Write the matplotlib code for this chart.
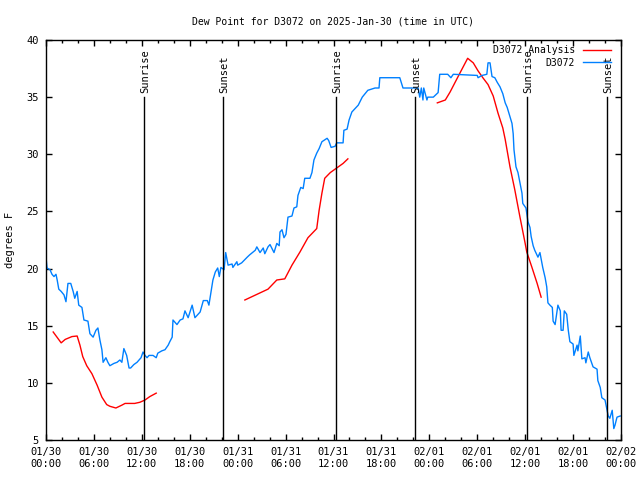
import numpy as np
import matplotlib
matplotlib.use("Agg")
import matplotlib.pyplot as plt
from matplotlib.ticker import MultipleLocator

# hours since 2025-01-30 00:00 UTC
obs_hours = [0.0, 0.13, 0.5, 0.75, 1.0, 1.25, 1.4, 1.6, 1.9, 2.25, 2.5, 2.75, 3.1, 3.4, 3.6, 3.9,
             4.1, 4.5, 4.75, 5.25, 5.5, 5.9, 6.25, 6.5, 6.75, 7.0, 7.15, 7.5, 7.75, 8.0, 8.5, 8.9,
             9.25, 9.5, 9.75, 10.1, 10.4, 10.6, 11.0, 11.4, 11.65, 11.9, 12.15, 12.4, 12.65, 12.9,
             13.4, 13.8, 14.0, 14.5, 14.9, 15.3, 15.5, 15.8, 15.9, 16.4, 16.8, 17.15, 17.4, 17.8,
             18.3, 18.65, 19.3, 19.7, 20.2, 20.4, 20.7, 20.9, 21.2, 21.5, 21.7, 21.9, 22.3, 22.5,
             22.8, 23.3, 23.4, 23.9, 24.0, 24.5, 25.2, 25.5, 26.2, 26.4, 26.8, 27.2, 27.4, 27.8,
             28.05, 28.4, 28.55, 28.9, 29.2, 29.3, 29.55, 29.8, 30.05, 30.3, 30.8, 31.05, 31.4,
             31.55, 31.9, 32.2, 32.4, 33.05, 33.3, 33.55, 33.9, 34.2, 34.55, 35.2, 35.4, 35.7,
             36.2, 36.4, 37.2, 37.3, 37.7, 37.95, 38.3, 39.1, 39.6, 40.3, 41.2, 41.7, 41.8, 44.3,
             44.7, 46.6, 46.8, 47.0, 47.2, 47.3, 47.7, 47.8, 48.5, 49.1, 49.3, 50.3, 50.7, 51.0,
             54.0, 54.1, 54.6, 55.2, 55.35, 55.6, 55.85, 56.2, 56.5, 56.85, 57.2, 57.5, 57.75,
             58.1, 58.35, 58.5, 58.6, 58.85, 59.1, 59.35, 59.6, 59.7, 60.1, 60.35, 60.6, 60.75,
             61.0, 61.2, 61.6, 61.85, 62.1, 62.2, 62.5, 62.7, 62.85, 63.1, 63.4, 63.5, 63.75,
             64.1, 64.4, 64.5, 64.75, 64.9, 65.2, 65.4, 65.6, 66.0, 66.1, 66.5, 66.6, 66.9, 67.1,
             67.5, 67.6, 67.9, 68.1, 68.5, 69.0, 69.1, 69.4, 69.6, 70.0, 70.25, 70.4, 70.6, 70.9,
             71.1, 71.25, 71.5, 71.9]
obs_dewpt = [21.0, 20.05, 19.9, 19.5, 19.3, 19.5, 19.0, 18.2, 18.0, 17.7, 17.1, 18.7, 18.7, 18.0, 17.4, 18.0,
             16.8, 16.6, 15.5, 15.4, 14.3, 14.0, 14.6, 14.8, 13.75, 12.9, 11.8, 12.2, 11.8, 11.5, 11.7, 11.8,
             12.0, 11.8, 13.0, 12.4, 11.3, 11.3, 11.6, 11.8, 12.0, 12.2, 12.7, 12.4, 12.2, 12.4,
             12.4, 12.2, 12.6, 12.8, 12.9, 13.3, 13.6, 14.0, 15.5, 15.1, 15.5, 15.6, 16.3, 15.7,
             16.8, 15.7, 16.2, 17.2, 17.2, 16.8, 18.1, 19.0, 19.7, 20.05, 19.3, 20.1, 19.9, 21.4,
             20.3, 20.4, 20.1, 20.6, 20.3, 20.5, 21.0, 21.2, 21.6, 21.9, 21.4, 21.8, 21.3, 21.9,
             22.1, 21.6, 21.4, 22.2, 22.0, 23.2, 23.4, 22.7, 23.0, 24.5, 24.6, 25.3, 25.4,
             26.4, 27.1, 27.0, 27.9, 27.9, 28.4, 29.5, 30.1, 30.5, 31.1, 31.4, 31.2, 30.6,
             30.7, 31.0, 31.0, 32.1, 32.2, 33.0, 33.7, 34.3, 35.0, 35.6, 35.8, 35.8, 36.7, 36.7,
             35.8, 35.8, 35.0, 35.8, 34.75, 35.8, 34.75, 35.0, 35.0, 35.4, 37.0, 37.0, 36.7, 37.0,
             36.9, 36.7, 36.9, 37.0, 38.0, 38.0, 36.8, 36.7, 36.3, 35.9, 35.3, 34.5, 34.1,
             33.3, 32.7, 31.8, 30.4, 28.9, 28.4, 27.5, 26.6, 25.7, 25.3, 24.1, 23.6, 22.8,
             22.0, 21.6, 21.0, 21.4, 20.5, 20.1, 19.2, 18.4, 17.0, 16.8, 16.6, 15.4, 15.1,
             16.8, 16.3, 14.6, 14.6, 16.3, 16.0, 14.6, 13.6, 13.4, 12.4, 13.3, 12.8, 14.1, 12.1,
             12.2, 11.75, 12.7, 12.2, 11.4, 11.2, 10.2, 9.6, 8.7, 8.5, 7.6, 7.1, 6.9, 7.6,
             6.0, 6.3, 7.0, 7.1]

# analysis, three separate runs (nan = gap)
ana_hours = [0.9, 1.9, 2.4, 3.25, 3.9, 4.25, 4.6, 5.1, 5.75, 6.4, 7.0, 7.6, 8.0, 8.75, 9.5, 9.9,
             11.1, 11.75, 12.4, 13.0, 13.8, 19.0,
             24.9, 27.8, 28.9, 29.9, 30.8, 31.8, 32.8, 33.9, 34.2, 34.55, 34.9, 35.6, 36.4, 37.2,
             37.8, 43.0,
             49.0, 50.0, 50.6, 51.6, 52.8, 53.5, 54.1, 54.7, 55.35, 56.0, 56.6, 57.2, 57.5, 58.1,
             58.7, 59.35, 60.0, 60.2, 60.85, 61.5, 62.0]
ana_dewpt = [14.45, 13.5, 13.8, 14.05, 14.1, 13.3, 12.3, 11.5, 10.8, 9.8, 8.75, 8.1, 7.95, 7.8, 8.05, 8.2,
             8.2, 8.3, 8.5, 8.8, 9.1, np.nan,
             17.25, 18.2, 19.0, 19.1, 20.3, 21.45, 22.7, 23.5, 25.1, 26.6, 27.9, 28.4, 28.8, 29.2,
             29.6, np.nan,
             34.5, 34.75, 35.45, 36.8, 38.4, 38.0, 37.3, 36.7, 36.1, 35.1, 33.6, 32.3, 31.3, 28.9,
             26.9, 24.5, 22.2, 21.45, 20.1, 18.7, 17.5]

sun_hours = [12.27, 22.15, 36.3, 46.2, 60.2, 70.2]
sun_names = ["Sunrise", "Sunset", "Sunrise", "Sunset", "Sunrise", "Sunset"]

tick_hours = list(range(0, 73, 6))
tick_labels = ["01/30\n00:00", "01/30\n06:00", "01/30\n12:00", "01/30\n18:00",
               "01/31\n00:00", "01/31\n06:00", "01/31\n12:00", "01/31\n18:00",
               "02/01\n00:00", "02/01\n06:00", "02/01\n12:00", "02/01\n18:00",
               "02/02\n00:00"]

plt.rcParams['font.family'] = ['DejaVu Sans Mono']
plt.rcParams['font.size'] = 7.5

fig = plt.figure(figsize=(6.4, 4.8), dpi=100)
ax = fig.add_axes([46/640, 40/480, 575/640, 400/480])

ax.plot(ana_hours, ana_dewpt, color="#ff0000", lw=1, label="D3072 Analysis")
ax.plot(obs_hours, obs_dewpt, color="#0080ff", lw=1, label="D3072")

for h, name in zip(sun_hours, sun_names):
    ax.plot([h, h], [5, 35], color="black", lw=1)
    ax.text(h + 0.15, 35.35, name, rotation=90, ha="center", va="bottom")

ax.set_xlim(0, 72)
ax.set_ylim(5, 40)
ax.set_xticks(tick_hours)
ax.set_xticklabels(tick_labels)
ax.xaxis.set_minor_locator(MultipleLocator(2))
ax.yaxis.set_major_locator(MultipleLocator(5))
ax.tick_params(which="both", direction="in", top=True, right=True, width=1)
ax.tick_params(which="major", length=4, pad=5)
ax.tick_params(which="minor", length=2)
for s in ax.spines.values():
    s.set_linewidth(1)

ax.set_title("Dew Point for D3072 on 2025-Jan-30 (time in UTC)", pad=11, fontsize=7)
ax.set_ylabel("degrees F", labelpad=8)
ax.legend(loc="upper right", bbox_to_anchor=(0.9896, 0.997), borderaxespad=0,
          frameon=False, markerfirst=False, fontsize=7, handlelength=2.9,
          labelspacing=0.25, handletextpad=0.8)

fig.savefig("out.png", dpi=100)
